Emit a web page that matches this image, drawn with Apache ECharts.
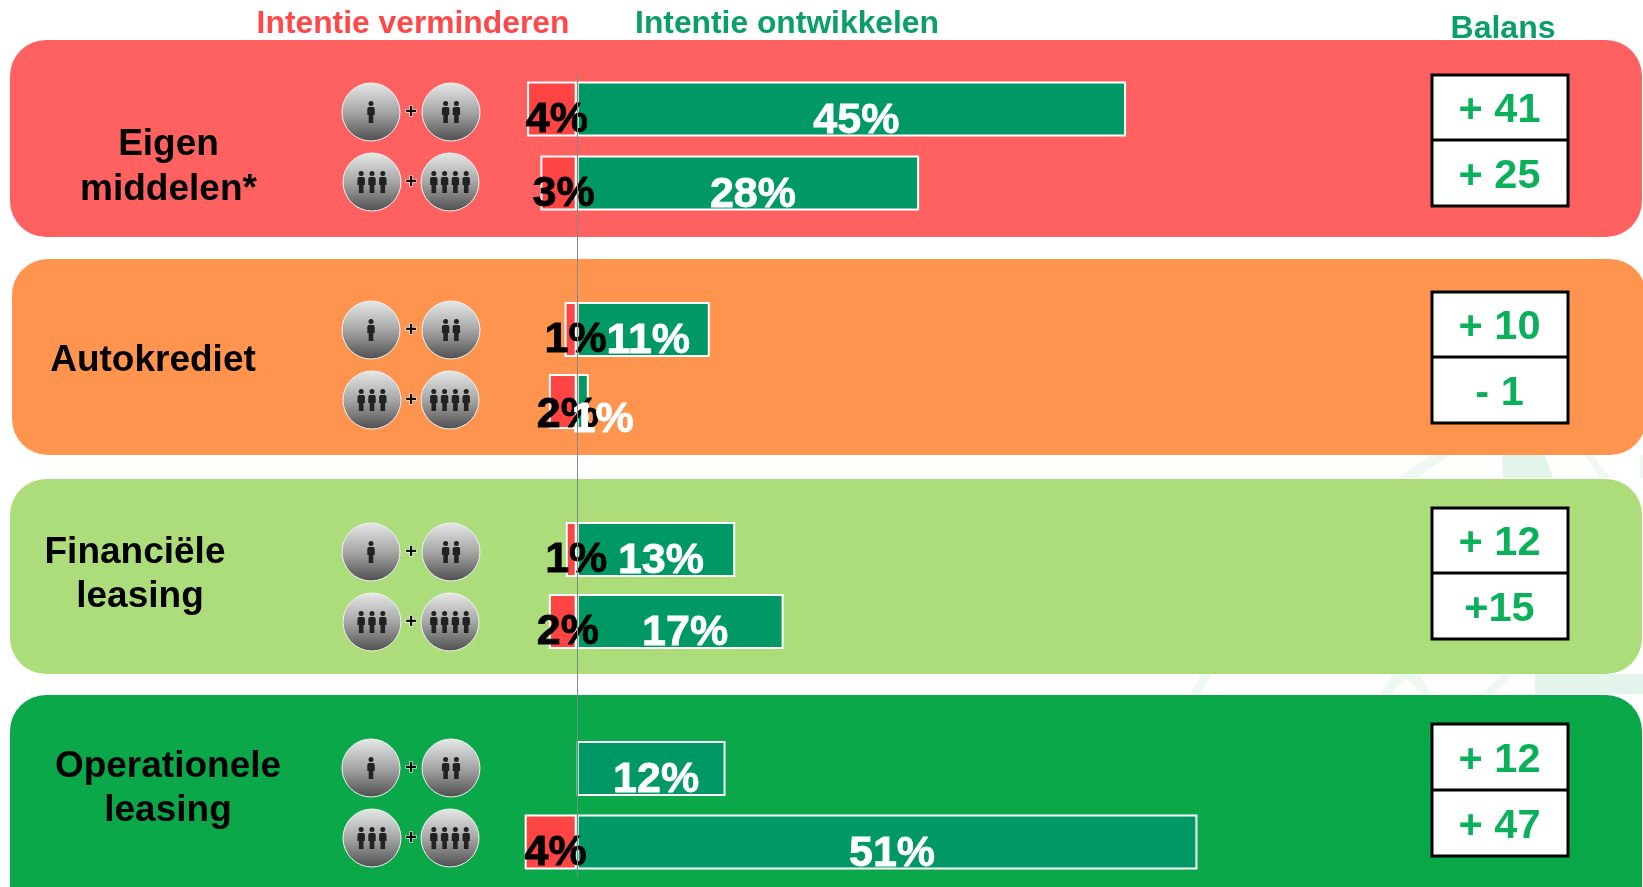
<!DOCTYPE html>
<html><head><meta charset="utf-8">
<style>html,body{margin:0;padding:0;background:#fff;overflow:hidden}#c{width:1643px;height:887px}</style>
<script src="https://cdn.jsdelivr.net/npm/echarts@6/dist/echarts.min.js"></script>
</head><body><div id="c"></div>
<script>
// ---- data ----
const products = [['Eigen','middelen*'],['Autokrediet'],['Financiële','leasing'],['Operationele','leasing']];
const sizeGroups = ['1 + 2','3 + 4'];
const reduceValues = [[4.1,3.0],[1.0,2.3],[0.9,2.3],[null,4.3]];
const developValues = [[45.4,28.3],[11.0,1.0],[13.1,17.1],[12.3,51.3]];
const balanceLabels = [['+ 41','+ 25'],['+ 10','- 1'],['+ 12','+15'],['+ 12','+ 47']];
const headers = ['Intentie verminderen','Intentie ontwikkelen','Balans'];

// ---- layout ----
const FONT = '"Liberation Sans", Arial, sans-serif';
const X0 = 576.7, LINE_X0 = 577.7, PX = 12.1, XMIN = -6, XMAX = 60;
const gridLeft = X0 + XMIN * PX, gridWidth = (XMAX - XMIN) * PX;
const panels = [
  {x:10,y:40,w:1632,h:197,color:'#FF6161'},
  {x:12,y:259,w:1634,h:196,color:'#FF944F'},
  {x:10,y:479,w:1632,h:195,color:'#ADDD7A'},
  {x:10,y:695,w:1632,h:240,color:'#0BA84A'}
];
const rowCenters = [[109,183],[329.5,401.5],[549.5,621.5],[768.5,842]];
const iconRows = [[112,182],[330,400],[552,622],[768,838]];
const boxes = [[75,140,206],[292,357,423],[508,573,639],[724,790,856]];
const labelBlocks = [
  {x:168.5,ys:[145,190]},{x:153,ys:[361]},{x:135,ys:[553,597]},{x:168,ys:[767,811]}
];
const washes = [
  [[1398,478],[1416,478],[1450,455],[1432,455]],
  [[1503,478],[1553,478],[1545,455],[1502,455]],
  [[1600,478],[1610,478],[1593,455],[1585,455]],
  [[1190,694],[1200,694],[1212,674],[1202,674]],
  [[1380,694],[1391,694],[1407,678],[1422,694],[1431,694],[1420,674],[1394,674]],
  [[1481,694],[1493,694],[1515,674],[1503,674]],
  [[1535,694],[1643,694],[1643,674],[1535,674]],
  [[1643,455],[1643,478],[1640,478],[1640,455]]
];

const graphics = [];
washes.forEach((pts,i) => graphics.push({type:'polygon',z:0,silent:true,shape:{points:pts},style:{fill:i===1||i===6?'#E3F5EA':'#EFF7F1'}}));
panels.forEach(p => graphics.push({type:'rect',z:0,silent:true,shape:{x:p.x,y:p.y,width:p.w,height:p.h,r:36},style:{fill:p.color}}));

function txt(text,x,y,size,fill,extra){
  graphics.push({type:'text',z:1,silent:true,x:x,y:y,style:Object.assign({text:text,fill:fill,font:'bold '+size+'px '+FONT,align:'center',verticalAlign:'middle'},extra||{})});
}
txt(headers[0],413,24,31.8,'#FF4848');
txt(headers[1],787,24,31.8,'#0A9E68');
txt(headers[2],1503,29,32,'#0A9E68');

labelBlocks.forEach((b,i) => products[i].forEach((line,j) => txt(line,b.x + (i===2&&j===1?5:0),b.ys[j],37,'#000')));

// round size-class badges with little people
function person(cx,cy){
  graphics.push({type:'circle',z:1,silent:true,shape:{cx:cx,cy:cy-8.5,r:2.5},style:{fill:'#222'}});
  graphics.push({type:'polygon',z:1,silent:true,shape:{points:[
    [cx-2.6,cy-5],[cx+2.6,cy-5],[cx+3.7,cy-3.5],[cx+3.7,cy+3],[cx+2.3,cy+3],[cx+2.3,cy+11],[cx-2.3,cy+11],[cx-2.3,cy+3],[cx-3.7,cy+3],[cx-3.7,cy-3.5]
  ]},style:{fill:'#222'}});
}
function badge(cx,cy,n){
  graphics.push({type:'circle',z:1,silent:true,shape:{cx:cx,cy:cy,r:29},style:{
    fill:{type:'linear',x:0,y:0,x2:0,y2:1,colorStops:[{offset:0,color:'#E6E8E8'},{offset:0.5,color:'#A6A6A6'},{offset:1,color:'#4E4E50'}]},
    stroke:'#F2F2F2',lineWidth:1}});
  for(let k=0;k<n;k++) person(cx+(k-(n-1)/2)*10.8,cy);
}
const plusStyle = {stroke:'#fff',lineWidth:1};
iconRows.forEach(r => {
  badge(371,r[0],1); badge(451,r[0],2); txt('+',411,r[0],20,'#111',plusStyle);
  badge(372,r[1],3); badge(450,r[1],4); txt('+',411,r[1],20,'#111',plusStyle);
});

// balance boxes
boxes.forEach((b,i) => {
  graphics.push({type:'rect',z:1,silent:true,shape:{x:1432,y:b[0],width:136,height:b[2]-b[0]},style:{fill:'#fff',stroke:'#000',lineWidth:3}});
  graphics.push({type:'line',z:1,silent:true,shape:{x1:1432,y1:b[1],x2:1568,y2:b[1]},style:{stroke:'#000',lineWidth:3}});
  txt(balanceLabels[i][0],1499.5,(b[0]+b[1])/2+3.5,41.5,'#0BB05A');
  txt(balanceLabels[i][1],1499.5,(b[1]+b[2])/2+3.5,41.5,'#0BB05A');
});

// one grid per panel; a fifth one only carries the zero line
const grids=[],xAxes=[],yAxes=[],series=[];
rowCenters.forEach((rc,i) => {
  const step = rc[1]-rc[0];
  grids.push({left:gridLeft,width:gridWidth,top:rc[0]-step/2,height:step*2});
  xAxes.push({type:'value',gridIndex:i,min:XMIN,max:XMAX,show:false});
  yAxes.push({type:'category',gridIndex:i,data:sizeGroups,inverse:true,show:false});
  const lab = (color) => ({show:true,position:'inside',color:color,fontFamily:FONT,fontWeight:'bold',fontSize:43,
    textBorderColor:color,textBorderWidth:0.8,formatter:p=>Math.round(p.value)+'%'});
  series.push({type:'bar',name:'Intentie verminderen',xAxisIndex:i,yAxisIndex:i,stack:'s'+i,barWidth:55,z:2,
    data:reduceValues[i].map((v,j)=>({value:v===null?null:-v,
      label:{offset:(i===1&&j===1)?[5,14]:[5,11],formatter:p=>Math.round(-p.value)+'%'}})),
    itemStyle:{color:'#FF4444',borderColor:'#fff',borderWidth:2},label:lab('#000')});
  series.push({type:'bar',name:'Intentie ontwikkelen',xAxisIndex:i,yAxisIndex:i,stack:'s'+i,barWidth:55,z:2,
    data:developValues[i].map((v,j)=>({value:v,label:{offset:(i===1&&j===1)?[20,19]:[5,12]}})),
    itemStyle:{color:'#009966',borderColor:'#fff',borderWidth:2},label:lab('#fff')});
});
grids.push({left:LINE_X0 + XMIN * PX,width:gridWidth,top:73,height:804});
xAxes.push({type:'value',gridIndex:4,min:XMIN,max:XMAX,show:false});
yAxes.push({type:'value',gridIndex:4,min:0,max:1,show:false});
series.push({type:'line',xAxisIndex:4,yAxisIndex:4,data:[],z:2,silent:true,
  markLine:{silent:true,symbol:'none',label:{show:false},lineStyle:{color:'#7F8A90',width:1,type:'solid'},data:[{xAxis:0}]}});

const chart = echarts.init(document.getElementById('c'),null,{renderer:'canvas'});
chart.setOption({animation:false,backgroundColor:'#fff',tooltip:{show:false},legend:{show:false},
  grid:grids,xAxis:xAxes,yAxis:yAxes,series:series,graphic:{elements:graphics}});
</script></body></html>
